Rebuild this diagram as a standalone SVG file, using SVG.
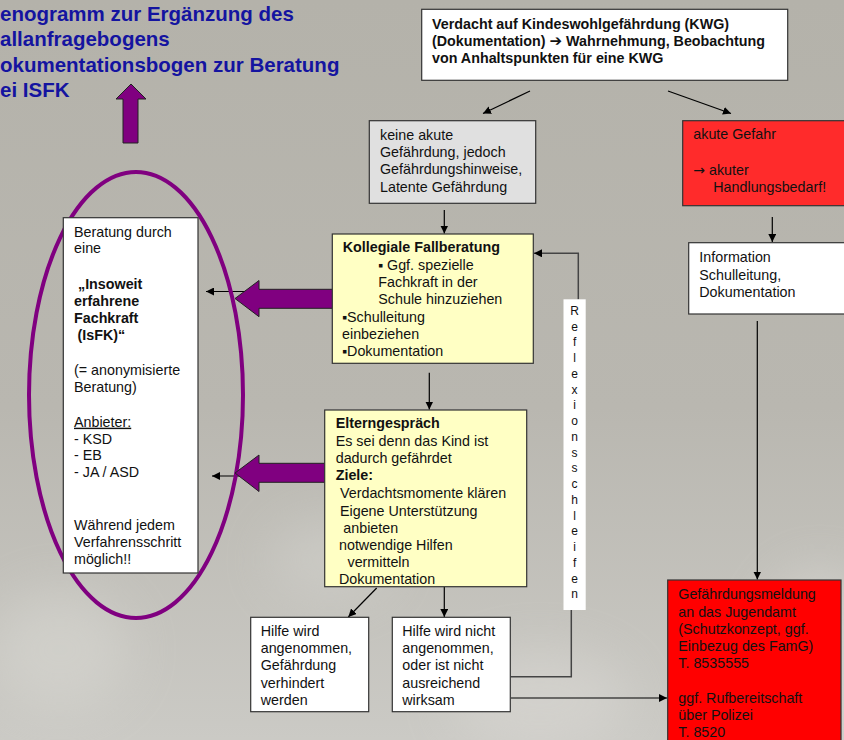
<svg xmlns="http://www.w3.org/2000/svg" width="844" height="740" viewBox="0 0 844 740">
<defs>
<linearGradient id="bg" x1="0" y1="0" x2="0" y2="1">
<stop offset="0" stop-color="#b4b2aa"/>
<stop offset="0.55" stop-color="#b9b7b0"/>
<stop offset="1" stop-color="#cbcac5"/>
</linearGradient>
<filter id="blur" x="-50%" y="-50%" width="200%" height="200%"><feGaussianBlur stdDeviation="25"/></filter>
<marker id="ah" viewBox="0 0 10 10" refX="10" refY="5" markerWidth="8" markerHeight="8" markerUnits="userSpaceOnUse" orient="auto">
<path d="M0,0 L10,5 L0,10 z" fill="#000"/>
</marker>
<style>
.t{font-family:"Liberation Sans",Arial,sans-serif;font-size:14.3px;fill:#111}
.b{font-weight:bold}
.title{font-family:"Liberation Sans",Arial,sans-serif;font-size:20.5px;font-weight:bold;fill:#1414a0}
.box{stroke:#333;stroke-width:1.2}
.w{fill:#fff}
.con{stroke:#000;stroke-width:1.2;fill:none}
.loop{stroke:#444;stroke-width:1.5;fill:none}
.purple{fill:#800080;stroke:#222;stroke-width:1}
.sym{font-family:"DejaVu Sans",sans-serif}
</style>
</defs>
<rect width="844" height="740" fill="url(#bg)"/>
<g filter="url(#blur)" opacity="0.45">
<ellipse cx="60" cy="650" rx="70" ry="60" fill="#dcdbd6"/>
<ellipse cx="540" cy="700" rx="90" ry="50" fill="#dedcd8"/>
<ellipse cx="820" cy="660" rx="60" ry="90" fill="#e0dfdb"/>
<ellipse cx="330" cy="560" rx="60" ry="40" fill="#d6d5d0"/>
</g>

<g id="title">
<text class="title" x="0" y="21">enogramm zur Ergänzung des</text>
<text class="title" x="0" y="46">allanfragebogens</text>
<text class="title" x="0" y="72">okumentationsbogen zur Beratung</text>
<text class="title" x="0" y="97">ei ISFK</text>
<polygon class="purple" points="131,84 146,99 138,99 138,143 123,143 123,99 116,99"/>
</g>

<g id="connectors">
<line class="con" x1="530" y1="91" x2="483" y2="113.5" marker-end="url(#ah)"/>
<line class="con" x1="668" y1="91" x2="731" y2="113.5" marker-end="url(#ah)"/>
<line class="con" x1="444.3" y1="210" x2="444.3" y2="233.5" marker-end="url(#ah)"/>
<line class="con" x1="772.3" y1="217" x2="772.3" y2="242" marker-end="url(#ah)"/>
<line class="con" x1="757.3" y1="321" x2="757.3" y2="579.5" marker-end="url(#ah)"/>
<line class="con" x1="429.3" y1="372.7" x2="429.3" y2="409.5" marker-end="url(#ah)"/>
<line class="con" x1="376.7" y1="588" x2="348.3" y2="617" marker-end="url(#ah)"/>
<line class="con" x1="444.3" y1="587" x2="444.3" y2="617" marker-end="url(#ah)"/>
<line class="con" x1="511" y1="698" x2="667" y2="698" marker-end="url(#ah)"/>
<line class="con" x1="250" y1="291.5" x2="206" y2="291.5" marker-end="url(#ah)"/>
<line class="con" x1="250" y1="476" x2="212" y2="476" marker-end="url(#ah)"/>
<polyline class="loop" points="578.3,299.5 578.3,253.3 534,253.3" marker-end="url(#ah)"/>
<polyline class="loop" points="571.3,610 571.3,676.7 510.7,676.7"/>
</g>

<g id="ellipse">
<ellipse cx="136" cy="395" rx="107" ry="223" fill="none" stroke="#800080" stroke-width="4"/>
</g>

<g id="purple-arrows">
<polygon class="purple" points="235,298.5 259,280.5 259,289.3 333,289.3 333,308.3 259,308.3 259,316.7"/>
<polygon class="purple" points="235,473 259,455 259,463.3 325,463.3 325,482.3 259,482.3 259,491.5"/>
</g>

<g id="verdacht">
<rect class="box w" x="421.7" y="9.3" width="366" height="71"/>
<text class="t b" x="432" y="29.3">Verdacht auf Kindeswohlgefährdung (KWG)</text>
<text class="t b" x="432" y="46.3">(Dokumentation) <tspan class="sym" font-size="15px" font-weight="bold">➔</tspan> Wahrnehmung, Beobachtung</text>
<text class="t b" x="432" y="63.3">von Anhaltspunkten für eine KWG</text>
</g>

<g id="keine-akute">
<rect class="box" fill="#e0e0e0" x="369.3" y="120.7" width="166.4" height="82.6"/>
<text class="t" x="380" y="140">keine akute</text>
<text class="t" x="380" y="157.2">Gefährdung, jedoch</text>
<text class="t" x="380" y="174.4">Gefährdungshinweise,</text>
<text class="t" x="380" y="191.6">Latente Gefährdung</text>
</g>

<g id="akute-gefahr">
<rect class="box" fill="#ff2b2b" x="682.7" y="120.7" width="164" height="85"/>
<text class="t" x="693.3" y="139.3">akute Gefahr</text>
<text class="t" x="693.3" y="175"><tspan class="sym" font-size="14px">→</tspan> akuter</text>
<text class="t" x="713.3" y="191.8">Handlungsbedarf!</text>
</g>

<g id="information">
<rect class="box w" x="688.7" y="242.7" width="158" height="71.3"/>
<text class="t" x="699.3" y="262.3">Information</text>
<text class="t" x="699.3" y="279.5">Schulleitung,</text>
<text class="t" x="699.3" y="296.7">Dokumentation</text>
</g>

<g id="beratung">
<rect class="box w" x="63.3" y="217.7" width="134.7" height="355.3"/>
<text class="t" x="74" y="236.7">Beratung durch</text>
<text class="t" x="74" y="253.4">eine</text>
<text class="t b" x="78" y="289">„Insoweit</text>
<text class="t b" x="74" y="306">erfahrene</text>
<text class="t b" x="74" y="323">Fachkraft</text>
<text class="t b" x="77.5" y="340">(IsFK)“</text>
<text class="t" x="74" y="375">(= anonymisierte</text>
<text class="t" x="74" y="392">Beratung)</text>
<text class="t" x="74" y="426.7" text-decoration="underline">Anbieter:</text>
<text class="t" x="74" y="443.5">- KSD</text>
<text class="t" x="74" y="460.3">- EB</text>
<text class="t" x="74" y="477">- JA / ASD</text>
<text class="t" x="74" y="530">Während jedem</text>
<text class="t" x="74" y="547">Verfahrensschritt</text>
<text class="t" x="74" y="564">möglich!!</text>
</g>

<g id="kollegiale">
<rect class="box" fill="#ffffc4" x="332.3" y="234" width="201" height="129.3"/>
<text class="t b" x="342.7" y="252.3">Kollegiale Fallberatung</text>
<text class="t" x="378" y="270">▪ Ggf. spezielle</text>
<text class="t" x="378.3" y="287">Fachkraft in der</text>
<text class="t" x="378.3" y="304">Schule hinzuziehen</text>
<text class="t" x="342" y="321.5">▪Schulleitung</text>
<text class="t" x="342" y="338.7">einbeziehen</text>
<text class="t" x="342" y="356">▪Dokumentation</text>
</g>

<g id="reflexion">
<rect fill="#fff" x="563.5" y="299.3" width="22.2" height="310.7"/>
<text font-family="'Liberation Sans',Arial,sans-serif" font-size="12px" fill="#111" text-anchor="middle"><tspan x="574.6" y="315">R</tspan><tspan x="574.6" dy="15.74">e</tspan><tspan x="574.6" dy="15.74">f</tspan><tspan x="574.6" dy="15.74">l</tspan><tspan x="574.6" dy="15.74">e</tspan><tspan x="574.6" dy="15.74">x</tspan><tspan x="574.6" dy="15.74">i</tspan><tspan x="574.6" dy="15.74">o</tspan><tspan x="574.6" dy="15.74">n</tspan><tspan x="574.6" dy="15.74">s</tspan><tspan x="574.6" dy="15.74">s</tspan><tspan x="574.6" dy="15.74">c</tspan><tspan x="574.6" dy="15.74">h</tspan><tspan x="574.6" dy="15.74">l</tspan><tspan x="574.6" dy="15.74">e</tspan><tspan x="574.6" dy="15.74">i</tspan><tspan x="574.6" dy="15.74">f</tspan><tspan x="574.6" dy="15.74">e</tspan><tspan x="574.6" dy="15.74">n</tspan></text>
</g>

<g id="elterngespraech">
<rect class="box" fill="#ffffc4" x="324.7" y="410" width="202" height="176.7"/>
<text class="t b" x="335.7" y="428.3">Elterngespräch</text>
<text class="t" x="335.7" y="445.5">Es sei denn das Kind ist</text>
<text class="t" x="335.7" y="462.7">dadurch gefährdet</text>
<text class="t b" x="335.7" y="480">Ziele:</text>
<text class="t" x="340" y="498.3">Verdachtsmomente klären</text>
<text class="t" x="340" y="515.5">Eigene Unterstützung</text>
<text class="t" x="343.3" y="532.7">anbieten</text>
<text class="t" x="339" y="549.8">notwendige Hilfen</text>
<text class="t" x="347.5" y="566.8">vermitteln</text>
<text class="t" x="339" y="583.5">Dokumentation</text>
</g>

<g id="hilfe-angenommen">
<rect class="box w" x="250.7" y="617.3" width="118" height="94.4"/>
<text class="t" x="260.7" y="636">Hilfe wird</text>
<text class="t" x="260.7" y="653.2">angenommen,</text>
<text class="t" x="260.7" y="670.4">Gefährdung</text>
<text class="t" x="260.7" y="687.6">verhindert</text>
<text class="t" x="260.7" y="704.8">werden</text>
</g>

<g id="hilfe-nicht">
<rect class="box w" x="392.3" y="617.3" width="118" height="94.4"/>
<text class="t" x="402.3" y="636">Hilfe wird nicht</text>
<text class="t" x="402.3" y="653.2">angenommen,</text>
<text class="t" x="402.3" y="670.4">oder ist nicht</text>
<text class="t" x="402.3" y="687.6">ausreichend</text>
<text class="t" x="402.3" y="704.8">wirksam</text>
</g>

<g id="gefaehrdungsmeldung">
<rect class="box" fill="#ff0000" x="667.7" y="580" width="173.3" height="170"/>
<text class="t" x="678.3" y="599.3">Gefährdungsmeldung</text>
<text class="t" x="678.3" y="616.6">an das Jugendamt</text>
<text class="t" x="678.3" y="633.9">(Schutzkonzept, ggf.</text>
<text class="t" x="678.3" y="651.1">Einbezug des FamG)</text>
<text class="t" x="678.3" y="668.3">T. 8535555</text>
<text class="t" x="678.3" y="703.3">ggf. Rufbereitschaft</text>
<text class="t" x="678.3" y="720.3">über Polizei</text>
<text class="t" x="678.3" y="737.3">T. 8520</text>
</g>
</svg>
